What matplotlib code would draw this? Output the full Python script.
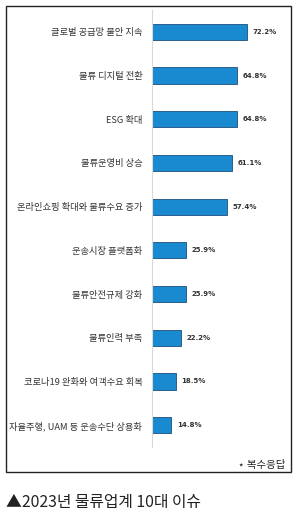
import matplotlib
matplotlib.use('Agg')
import matplotlib.pyplot as plt
from matplotlib.patches import Rectangle

plt.rcParams['font.family'] = ['Noto Sans CJK KR', 'DejaVu Sans']

# 데이터
categories = ['글로벌 공급망 불안 지속', '물류 디지털 전환', 'ESG 확대', '물류운영비 상승',
              '온라인쇼핑 확대와 물류수요 증가', '운송시장 플랫폼화', '물류안전규제 강화',
              '물류인력 부족', '코로나19 완화와 여객수요 회복', '자율주행, UAM 등 운송수단 상용화']
values = [72.2, 64.8, 64.8, 61.1, 57.4, 25.9, 25.9, 22.2, 18.5, 14.8]
value_labels = ['72.2%', '64.8%', '64.8%', '61.1%', '57.4%', '25.9%', '25.9%', '22.2%', '18.5%', '14.8%']

W, H = 297, 515
fig = plt.figure(figsize=(W / 100, H / 100), dpi=100)

# 바깥 테두리
fig.patches.append(Rectangle((6 / W, 1 - 472 / H), 285 / W, 466 / H, transform=fig.transFigure,
                             fill=False, edgecolor='#222222', linewidth=1.0))

ax = fig.add_axes([152 / W, 1 - 447 / H, 138 / W, 437 / H])
ypos = list(range(len(categories)))
ax.barh(ypos, values, height=0.37, color='#1a8ad0', edgecolor='#1d4f7a', linewidth=0.6)

for y, v, lab in zip(ypos, values, value_labels):
    ax.text(v + 4, y, lab, va='center', ha='left', fontsize=5.0, fontweight='bold', color='#333333',
            family=['DejaVu Sans'])

ax.set_xlim(0, 105)
ax.set_ylim(len(categories) - 0.5, -0.5)
ax.set_yticks(ypos)
ax.set_yticklabels(categories, fontsize=6.7, color='#333333')
ax.tick_params(axis='y', length=0, pad=7)
ax.set_xticks([])
for s in ['top', 'right', 'bottom']:
    ax.spines[s].set_visible(False)
ax.spines['left'].set_color('#d9d9d9')
ax.spines['left'].set_linewidth(0.8)

fig.text(285 / W, 1 - 465 / H, '⋆ 복수응답', ha='right', va='center', fontsize=7.5, color='#222222')
fig.text(6 / W, 1 - 502 / H, '▲2023년 물류업계 10대 이슈', ha='left', va='center', fontsize=11.4,
         color='#222222')

fig.savefig('out.png', dpi=100)
